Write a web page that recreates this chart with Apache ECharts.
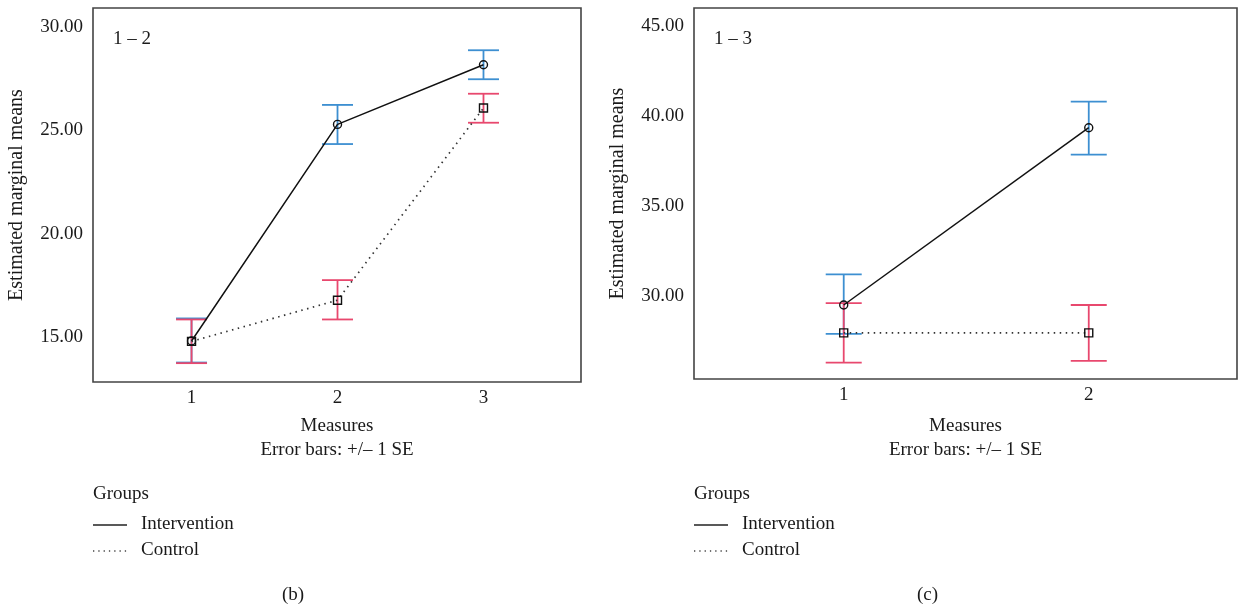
<!DOCTYPE html>
<html>
<head>
<meta charset="utf-8">
<script src="https://cdn.jsdelivr.net/npm/echarts@6/dist/echarts.min.js"></script>
<style>html,body{margin:0;padding:0;background:#fff;}#c{width:1238px;height:612px;}</style>
</head>
<body>
<div id="c"></div>
<script>
// ---- Data ----
const measuresB = [1, 2, 3];
const interventionB = [14.82, 25.28, 28.16];
const interventionBLo = [13.78, 24.33, 27.46];
const interventionBHi = [15.91, 26.22, 28.86];
const controlB = [14.80, 16.79, 26.07];
const controlBLo = [13.75, 15.86, 25.36];
const controlBHi = [15.86, 17.76, 26.76];

const measuresC = [1, 2];
const interventionC = [29.50, 39.35];
const interventionCLo = [27.90, 37.85];
const interventionCHi = [31.20, 40.80];
const controlC = [27.95, 27.95];
const controlCLo = [26.30, 26.40];
const controlCHi = [29.60, 29.50];

const yTicksB = [15, 20, 25, 30];
const yTicksC = [30, 35, 40, 45];
const xTicksB = [1, 2, 3];
const xTicksC = [1, 2];

const FONT = 'Liberation Serif';
const TXT = '#1a1a1a';
const BLUE = '#3d8fd1';
const PINK = '#e8486e';

function errSeries(name, xs, lo, hi, color, idx, capW) {
  return {
    name: name, type: 'custom', xAxisIndex: idx, yAxisIndex: idx, z: 1,
    data: xs.map((x, i) => [x, lo[i], hi[i]]),
    renderItem: function (params, api) {
      const x = api.value(0);
      const a = api.coord([x, api.value(2)]);
      const b = api.coord([x, api.value(1)]);
      const st = { stroke: color, lineWidth: 1.8 };
      return { type: 'group', children: [
        { type: 'line', shape: { x1: a[0], y1: a[1], x2: b[0], y2: b[1] }, style: st },
        { type: 'line', shape: { x1: a[0] - capW / 2, y1: a[1], x2: a[0] + capW / 2, y2: a[1] }, style: st },
        { type: 'line', shape: { x1: b[0] - capW / 2, y1: b[1], x2: b[0] + capW / 2, y2: b[1] }, style: st }
      ]};
    }
  };
}
function lineSeries(name, xs, ys, idx, dotted) {
  return {
    name: name, type: 'line', xAxisIndex: idx, yAxisIndex: idx, z: 3,
    data: xs.map((x, i) => [x, ys[i]]),
    symbol: dotted ? 'rect' : 'circle', symbolSize: 8,
    itemStyle: { color: 'rgba(255,255,255,0)', borderColor: '#111', borderWidth: 1.4 },
    lineStyle: dotted ? { color: '#333', width: 1.7, type: [1.5, 4.5] } : { color: '#111', width: 1.5 },
    emphasis: { disabled: true }, animation: false
  };
}
function yAxis(idx, min, max, ticks) {
  return {
    type: 'value', gridIndex: idx, min: min, max: max,
    name: 'Estimated marginal means', nameLocation: 'middle', nameGap: 66, nameRotate: 90,
    nameTextStyle: { fontFamily: FONT, fontSize: 20, color: TXT },
    axisLine: { show: false }, axisTick: { show: false }, splitLine: { show: false },
    axisLabel: { customValues: ticks, formatter: v => v.toFixed(2), fontFamily: FONT, fontSize: 19, color: TXT, margin: 10 }
  };
}
function xAxis(idx, min, max, ticks, gap) {
  return {
    type: 'value', gridIndex: idx, min: min, max: max,
    name: 'Measures\nError bars: +/\u2013 1 SE', nameLocation: 'middle', nameGap: gap,
    nameTextStyle: { fontFamily: FONT, fontSize: 19, color: TXT, lineHeight: 24, verticalAlign: 'top' },
    axisLine: { show: false }, axisTick: { show: false }, splitLine: { show: false },
    axisLabel: { customValues: ticks, formatter: v => String(v), fontFamily: FONT, fontSize: 19, color: TXT, margin: 7 }
  };
}
function legendGraphics(x0) {
  const t = (x, y, s) => ({ type: 'text', left: x, top: y - 10, style: { text: s, font: '19px "' + FONT + '"', fill: TXT } });
  return [
    t(x0, 495, 'Groups'),
    { type: 'line', shape: { x1: x0, y1: 525, x2: x0 + 34, y2: 525 }, style: { stroke: '#222', lineWidth: 1.4 } },
    { type: 'line', shape: { x1: x0, y1: 551, x2: x0 + 34, y2: 551 }, style: { stroke: '#444', lineWidth: 1.4, lineDash: [1.3, 4] } },
    t(x0 + 48, 525, 'Intervention'),
    t(x0 + 48, 551, 'Control')
  ];
}

const chart = echarts.init(document.getElementById('c'), null, { renderer: 'canvas' });
chart.setOption({
  animation: false,
  grid: [
    { left: 93, top: 8, width: 488, height: 374, show: true, borderColor: '#444', borderWidth: 1.6, backgroundColor: '#fff' },
    { left: 694, top: 8, width: 543, height: 371, show: true, borderColor: '#444', borderWidth: 1.6, backgroundColor: '#fff' }
  ],
  xAxis: [xAxis(0, 0.325, 3.668, xTicksB, 32), xAxis(1, 0.389, 2.605, xTicksC, 35)],
  yAxis: [yAxis(0, 12.84, 30.90, yTicksB), yAxis(1, 25.39, 46.0, yTicksC)],
  graphic: [
    { type: 'text', left: 113, top: 30, style: { text: '1 \u2013 2', font: '19px "' + FONT + '"', fill: TXT } },
    { type: 'text', left: 714, top: 30, style: { text: '1 \u2013 3', font: '19px "' + FONT + '"', fill: TXT } },
    { type: 'text', left: 282, top: 586, style: { text: '(b)', font: '19px "' + FONT + '"', fill: TXT } },
    { type: 'text', left: 917, top: 586, style: { text: '(c)', font: '19px "' + FONT + '"', fill: TXT } }
  ].concat(legendGraphics(93)).concat(legendGraphics(694)),
  series: [
    errSeries('Intervention SE', measuresB, interventionBLo, interventionBHi, BLUE, 0, 31),
    errSeries('Control SE', measuresB, controlBLo, controlBHi, PINK, 0, 31),
    lineSeries('Intervention', measuresB, interventionB, 0, false),
    lineSeries('Control', measuresB, controlB, 0, true),
    errSeries('Intervention SE', measuresC, interventionCLo, interventionCHi, BLUE, 1, 36),
    errSeries('Control SE', measuresC, controlCLo, controlCHi, PINK, 1, 36),
    lineSeries('Intervention', measuresC, interventionC, 1, false),
    lineSeries('Control', measuresC, controlC, 1, true)
  ]
});
</script>
</body>
</html>
